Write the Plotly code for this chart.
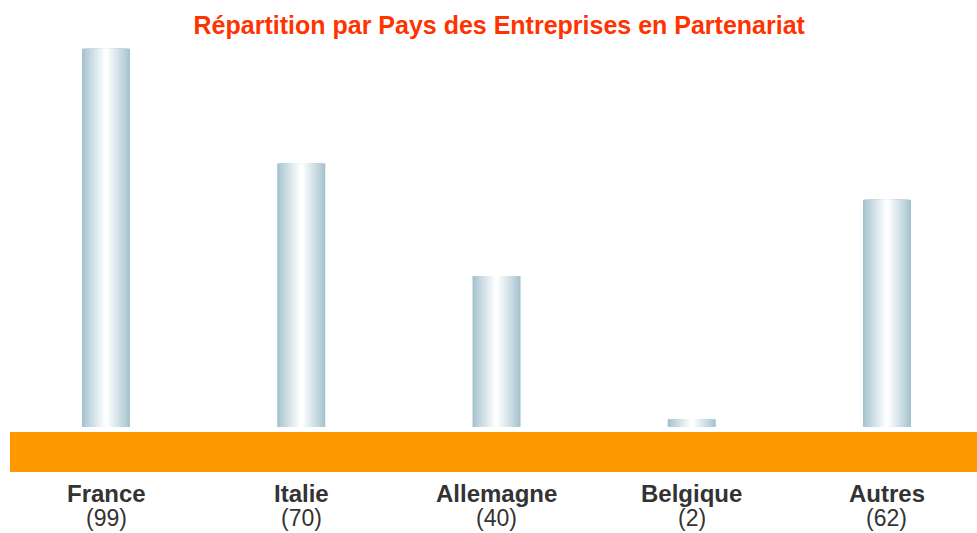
import plotly.graph_objects as go

countries = ["France", "Italie", "Allemagne", "Belgique", "Autres"]
counts = [99, 70, 40, 2, 62]
# bar heights as drawn in the picture
bar_heights = [99, 69, 39.5, 2, 59.5]

edge_rgb = (164, 194, 206)
n_steps = 18
bar_width = 0.246

fig = go.Figure()
xs = list(range(len(countries)))

# horizontal gradient: stacked overlay bars, narrower and lighter towards the centre
for i in range(n_steps):
    t = i / (n_steps - 1)
    r, g, b = (int(round(c + (255 - c) * t ** 0.9)) for c in edge_rgb)
    fig.add_trace(go.Bar(
        x=xs, y=bar_heights,
        width=bar_width * (1 - i / n_steps),
        marker=dict(color=f"rgb({r},{g},{b})", line=dict(width=0)),
        showlegend=False,
        hoverinfo="skip" if i else "y",
    ))

for x, name, n in zip(xs, countries, counts):
    fig.add_annotation(x=x, y=-0.173, xref="x", yref="paper", text=f"<b>{name}</b>",
                       showarrow=False, yanchor="middle",
                       font=dict(size=24, color="#333333"))
    fig.add_annotation(x=x, y=-0.236, xref="x", yref="paper", text=f"({n})",
                       showarrow=False, yanchor="middle",
                       font=dict(size=23, color="#333333"))

fig.add_shape(type="rect", xref="paper", yref="paper",
              x0=10 / 977, x1=1, y0=-0.1163, y1=-0.0129,
              fillcolor="#ff9900", line=dict(width=0), layer="above")

fig.update_layout(
    width=977, height=533,
    barmode="overlay",
    title=dict(text="<b>Répartition par Pays des Entreprises en Partenariat</b>",
               x=0.511, xanchor="center", y=1 - 25 / 533, yanchor="middle",
               font=dict(size=25, color="#ff3300")),
    font=dict(family="Liberation Sans, Arial, sans-serif"),
    margin=dict(l=0, r=0, t=40, b=106),
    plot_bgcolor="white", paper_bgcolor="white",
    xaxis=dict(range=[-0.543, 4.461], showticklabels=False, showgrid=False,
               zeroline=False, showline=False, ticks=""),
    yaxis=dict(range=[0, 101.3], visible=False),
)

fig.write_html("out.html", config={"displayModeBar": False},
               post_script="document.body.style.margin='0';")
